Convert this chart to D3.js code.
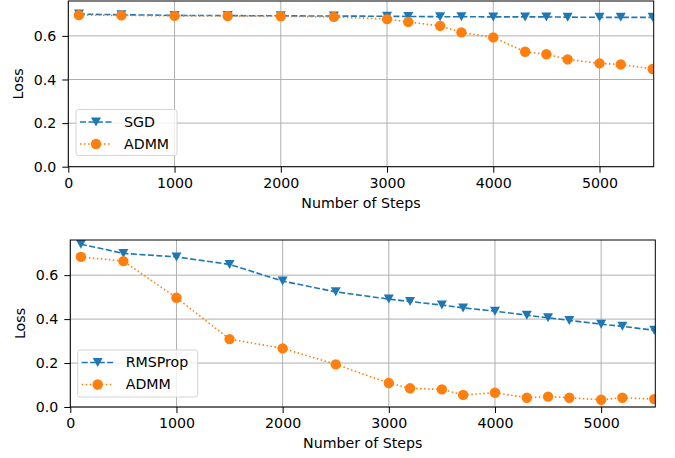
<!DOCTYPE html>
<html>
<head>
<meta charset="utf-8">
<script src="https://cdn.jsdelivr.net/npm/d3@7"></script>
<style>
  body { margin: 0; background: #fff; }
  svg { display: block; font-family: "DejaVu Sans", sans-serif; }
</style>
</head>
<body>
<script>
// training steps shared by both panels
var steps = [100, 500, 1000, 1500, 2000, 2500, 3000, 3200, 3500, 3700, 4000, 4300, 4500, 4700, 5000, 5200, 5500];

// top panel: SGD vs ADMM
var sgdLoss = [0.700, 0.697, 0.694, 0.693, 0.692, 0.691, 0.690, 0.689, 0.688, 0.688, 0.687, 0.687, 0.687, 0.686, 0.685, 0.685, 0.685];
var admmLossTop = [0.695, 0.694, 0.692, 0.691, 0.690, 0.687, 0.677, 0.664, 0.646, 0.616, 0.593, 0.527, 0.516, 0.492, 0.474, 0.469, 0.448];

// bottom panel: RMSProp vs ADMM
var rmspropLoss = [0.741, 0.699, 0.683, 0.649, 0.573, 0.524, 0.491, 0.480, 0.464, 0.451, 0.436, 0.418, 0.406, 0.394, 0.377, 0.367, 0.349];
var admmLossBottom = [0.683, 0.664, 0.497, 0.309, 0.267, 0.194, 0.109, 0.085, 0.080, 0.055, 0.065, 0.042, 0.047, 0.042, 0.033, 0.042, 0.036];

var xTicks = [0, 1000, 2000, 3000, 4000, 5000];
var yTicks = [0.0, 0.2, 0.4, 0.6];

var blue = "#1f77b4", orange = "#ff7f0e";
var fontSize = 14.2;

var svg = d3.select("body").append("svg")
    .attr("width", 675)
    .attr("height", 458);

var panels = [
    {id: "p1", left: 68.3, right: 653.7, top: 1, bottom: 166.7,
     series: [
        {name: "SGD", values: sgdLoss, color: blue, dash: "6,2.5", marker: "tri"},
        {name: "ADMM", values: admmLossTop, color: orange, dash: "1.5,2.5", marker: "circle"}
     ],
     legend: {x: 76, y: 109.5, w: 101, h: 46}},
    {id: "p2", left: 70.3, right: 655.3, top: 240, bottom: 407,
     series: [
        {name: "RMSProp", values: rmspropLoss, color: blue, dash: "6,2.5", marker: "tri"},
        {name: "ADMM", values: admmLossBottom, color: orange, dash: "1.5,2.5", marker: "circle"}
     ],
     legend: {x: 77.7, y: 350, w: 120, h: 47}}
];

function drawMarker(g, type, color) {
    if (type == "tri") {
        g.append("path")
            .attr("d", "M-5,-4.5L5,-4.5L0,4.5Z")
            .attr("fill", color);
    } else {
        g.append("circle")
            .attr("r", 5.2)
            .attr("fill", color);
    }
}

panels.forEach(function (p) {
    var x = d3.scaleLinear().domain([0, 5510]).range([p.left, p.right]);
    var y = d3.scaleLinear().domain([0, 0.76]).range([p.bottom, p.top]);
    var g = svg.append("g");

    g.append("defs").append("clipPath")
        .attr("id", "clip-" + p.id)
        .append("rect")
        .attr("x", p.left).attr("y", p.top)
        .attr("width", p.right - p.left).attr("height", p.bottom - p.top);

    // grid
    g.selectAll(".gx").data(xTicks).enter().append("line")
        .attr("x1", function (d) { return x(d); }).attr("x2", function (d) { return x(d); })
        .attr("y1", p.top).attr("y2", p.bottom)
        .attr("stroke", "#b0b0b0").attr("stroke-width", 1);
    g.selectAll(".gy").data(yTicks).enter().append("line")
        .attr("x1", p.left).attr("x2", p.right)
        .attr("y1", function (d) { return y(d); }).attr("y2", function (d) { return y(d); })
        .attr("stroke", "#b0b0b0").attr("stroke-width", 1);

    var body = g.append("g").attr("clip-path", "url(#clip-" + p.id + ")");
    var line = d3.line()
        .x(function (d, i) { return x(steps[i]); })
        .y(function (d) { return y(d); });

    p.series.forEach(function (s) {
        body.append("path")
            .attr("d", line(s.values))
            .attr("fill", "none")
            .attr("stroke", s.color)
            .attr("stroke-width", 1.6)
            .attr("stroke-dasharray", s.dash);
        s.values.forEach(function (v, i) {
            var m = body.append("g").attr("transform", "translate(" + x(steps[i]) + "," + y(v) + ")");
            drawMarker(m, s.marker, s.color);
        });
    });

    // axes
    var xAxis = d3.axisBottom(x).tickValues(xTicks).tickFormat(d3.format("d")).tickSize(6).tickPadding(5);
    var yAxis = d3.axisLeft(y).tickValues(yTicks).tickFormat(d3.format(".1f")).tickSize(6).tickPadding(6);
    var gx = g.append("g").attr("transform", "translate(0," + p.bottom + ")").call(xAxis);
    var gy = g.append("g").attr("transform", "translate(" + p.left + ",0)").call(yAxis);
    [gx, gy].forEach(function (a) {
        a.select(".domain").remove();
        a.selectAll("text").attr("font-size", fontSize).attr("fill", "#000")
            .attr("font-family", "DejaVu Sans");
        a.selectAll("line").attr("stroke", "#000");
    });

    g.append("rect")
        .attr("x", p.left).attr("y", p.top)
        .attr("width", p.right - p.left).attr("height", p.bottom - p.top)
        .attr("fill", "none").attr("stroke", "#000").attr("stroke-width", 1);

    g.append("text")
        .attr("x", (p.left + p.right) / 2)
        .attr("y", p.bottom + 41)
        .attr("text-anchor", "middle")
        .attr("font-size", fontSize)
        .text("Number of Steps");

    g.append("text")
        .attr("transform", "translate(" + (p.left - 45) + "," + ((p.top + p.bottom) / 2) + ") rotate(-90)")
        .attr("text-anchor", "middle")
        .attr("font-size", fontSize)
        .text("Loss");

    // legend
    var L = p.legend;
    var lg = g.append("g");
    lg.append("rect")
        .attr("x", L.x).attr("y", L.y).attr("width", L.w).attr("height", L.h)
        .attr("rx", 2.5)
        .attr("fill", "#fff").attr("fill-opacity", 0.8)
        .attr("stroke", "#d0d0d0").attr("stroke-width", 0.9);
    p.series.forEach(function (s, i) {
        var cy = L.y + 12.5 + i * 22;
        lg.append("line")
            .attr("x1", L.x + 4).attr("x2", L.x + 36)
            .attr("y1", cy).attr("y2", cy)
            .attr("stroke", s.color).attr("stroke-width", 1.6)
            .attr("stroke-dasharray", s.dash);
        var m = lg.append("g").attr("transform", "translate(" + (L.x + 20) + "," + cy + ")");
        drawMarker(m, s.marker, s.color);
        lg.append("text")
            .attr("x", L.x + 48).attr("y", cy)
            .attr("dy", "0.35em")
            .attr("font-size", fontSize)
            .text(s.name);
    });
});
</script>
</body>
</html>
